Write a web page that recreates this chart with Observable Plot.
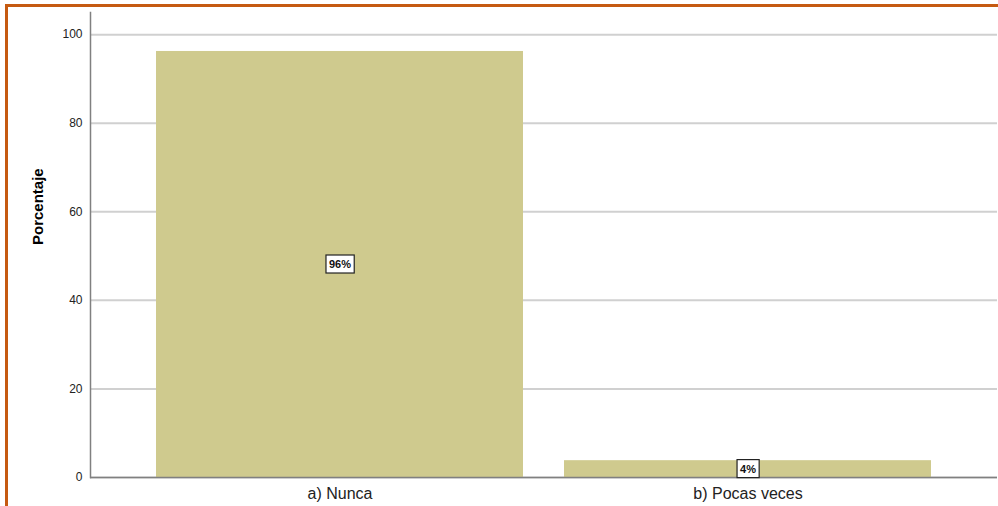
<!DOCTYPE html>
<html>
<head>
<meta charset="utf-8">
<script src="https://cdn.jsdelivr.net/npm/d3@7"></script>
<script src="https://cdn.jsdelivr.net/npm/@observablehq/plot@0.6"></script>
<style>
  html, body { margin: 0; padding: 0; background: #fff; }
  #wrap { position: relative; width: 998px; height: 506px; overflow: hidden; }
  #frame { position: absolute; left: 5px; top: 4px; width: 1100px; height: 600px;
           border-top: 3px solid #C55A11; border-left: 3px solid #C55A11; pointer-events: none; }
  #chart { position: absolute; left: 0; top: 0; }
  svg { font-family: "Liberation Sans", Arial, sans-serif; }
</style>
</head>
<body>
<div id="wrap">
  <div id="chart"></div>
  <div id="frame"></div>
</div>
<script>
const categories = ["a) Nunca", "b) Pocas veces"];
const values = [96.2, 3.8];
const labels = ["96%", "4%"];
const yTicks = [0, 20, 40, 60, 80, 100];

const data = categories.map((c, i) => ({cat: c, value: values[i], label: labels[i]}));

const plot = Plot.plot({
  width: 998,
  height: 506,
  marginLeft: 90,
  marginRight: 1,
  marginTop: 12,
  marginBottom: 29,
  style: {fontFamily: "Liberation Sans, Arial, sans-serif", background: "transparent"},
  x: {domain: categories, paddingInner: 0.1, paddingOuter: 0.16, label: null},
  y: {domain: [0, 105], label: null},
  marks: [
    Plot.gridY(yTicks, {stroke: "#d0d0d0", strokeOpacity: 1, strokeWidth: 2}),
    Plot.barY(data, {x: "cat", y: "value", fill: "#CFCA8E"}),
    Plot.ruleY([0], {stroke: "#808080", strokeWidth: 1.5}),
    Plot.frame({anchor: "left", stroke: "#808080", strokeWidth: 1.5}),
    Plot.axisY(yTicks, {tickSize: 0, tickPadding: 8, fontSize: 12, fill: "#222", label: null}),
    Plot.axisX({tickSize: 0, tickPadding: 10, fontSize: 16, fill: "#222", label: null}),
    Plot.text(["Porcentaje"], {frameAnchor: "left", dx: -52, rotate: -90, fontSize: 15, fontWeight: "bold", fill: "#000"}),
    Plot.text(data, {x: "cat", y: d => d.value / 2, text: "label", fontSize: 11, fontWeight: "bold", fill: "#111", className: "vlabel"})
  ]
});
document.getElementById("chart").appendChild(plot);

// white boxes behind the value labels, sized from the rendered text
d3.select(plot).selectAll("g.vlabel text").each(function() {
  const b = this.getBBox();
  const tr = this.getAttribute("transform");
  const rect = document.createElementNS("http://www.w3.org/2000/svg", "rect");
  rect.setAttribute("x", b.x - 3);
  rect.setAttribute("y", b.y - 3);
  rect.setAttribute("width", b.width + 6);
  rect.setAttribute("height", b.height + 6);
  rect.setAttribute("fill", "#fff");
  rect.setAttribute("stroke", "#222");
  rect.setAttribute("stroke-width", 1.2);
  if (tr) rect.setAttribute("transform", tr);
  this.parentNode.insertBefore(rect, this);
});
</script>
</body>
</html>
